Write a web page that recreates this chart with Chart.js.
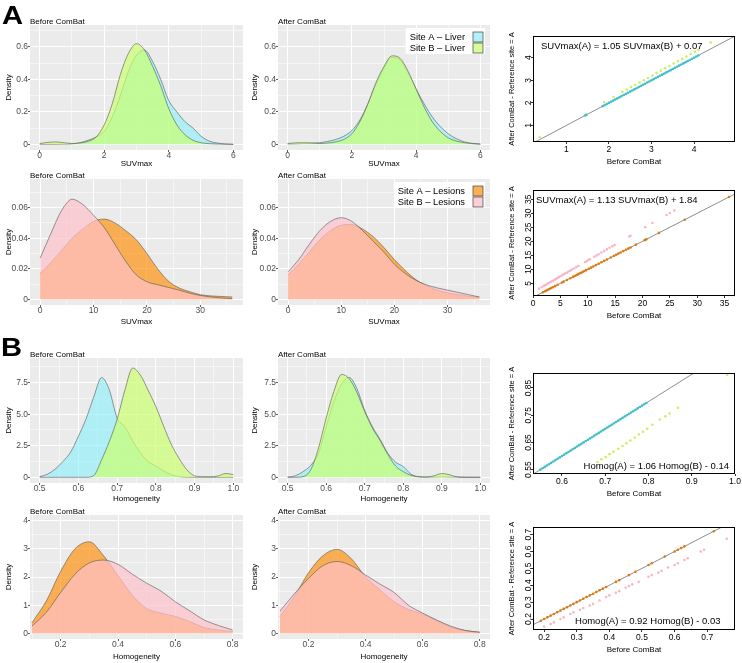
<!DOCTYPE html>
<html>
<head>
<meta charset="utf-8">
<script src="https://cdn.jsdelivr.net/npm/chart.js@4.4.1/dist/chart.umd.min.js"></script>
<style>
  html, body { margin: 0; padding: 0; background: #fff; }
  #figure { position: relative; width: 742px; height: 663px; overflow: hidden; }
  #figure canvas { position: absolute; }
  .tag { position: absolute; font-family: "Liberation Sans", Arial, sans-serif; font-weight: bold; font-size: 26px; line-height: 26px; color: #000; transform: scaleX(1.12); transform-origin: left top; }
</style>
</head>
<body>
<div id="figure">
  <canvas id="c1" width="250" height="170" style="left:0;top:0"></canvas>
  <canvas id="c2" width="250" height="170" style="left:250px;top:0"></canvas>
  <canvas id="c3" width="242" height="170" style="left:500px;top:0"></canvas>
  <canvas id="c4" width="250" height="160" style="left:0;top:170px"></canvas>
  <canvas id="c5" width="250" height="160" style="left:250px;top:170px"></canvas>
  <canvas id="c6" width="242" height="160" style="left:500px;top:170px"></canvas>
  <canvas id="c7" width="250" height="175" style="left:0;top:330px"></canvas>
  <canvas id="c8" width="250" height="175" style="left:250px;top:330px"></canvas>
  <canvas id="c9" width="242" height="175" style="left:500px;top:330px"></canvas>
  <canvas id="c10" width="250" height="163" style="left:0;top:500px"></canvas>
  <canvas id="c11" width="250" height="163" style="left:250px;top:500px"></canvas>
  <canvas id="c12" width="242" height="163" style="left:500px;top:500px"></canvas>
  <div class="tag" style="left:2px;top:2px">A</div>
  <div class="tag" style="left:1px;top:334px">B</div>
</div>
<script>
const FONT = '"Liberation Sans", Arial, Helvetica, sans-serif';
Chart.defaults.font.family = FONT;
Chart.defaults.color = '#4D4D4D';

// Legend names and fills
const liverSites = ['Site A \u2013 Liver', 'Site B \u2013 Liver'];
const lesionSites = ['Site A \u2013 Lesions', 'Site B \u2013 Lesions'];
const liverFills = ['rgba(135,240,250,0.6)', 'rgba(202,255,112,0.7)'];
const lesionFills = ['rgba(255,140,0,0.65)', 'rgba(255,192,203,0.7)'];
const liverDots = ['#3FC0CC', '#C8F060'];
const lesionDots = ['#E07A10', '#F8B5C5'];

// ---- A: SUVmax densities ----
const suvLiverX = [0, 0.25, 0.5, 0.75, 1, 1.25, 1.5, 1.75, 2, 2.25, 2.5, 2.75, 3, 3.25, 3.5, 3.75, 4, 4.25, 4.5, 4.75, 5, 5.25, 5.5, 5.75, 6];
const suvLiverBeforeA = [0, 0, 0, 0.001, 0.003, 0.01, 0.025, 0.045, 0.08, 0.17, 0.3, 0.45, 0.55, 0.58, 0.51, 0.4, 0.27, 0.2, 0.14, 0.1, 0.05, 0.02, 0.008, 0.002, 0];
const suvLiverBeforeB = [0.005, 0.012, 0.015, 0.01, 0.005, 0.008, 0.018, 0.045, 0.12, 0.25, 0.43, 0.56, 0.62, 0.58, 0.48, 0.36, 0.22, 0.12, 0.06, 0.025, 0.01, 0.004, 0.002, 0.001, 0];
const suvLiverAfterA = [0.002, 0.003, 0.005, 0.007, 0.01, 0.018, 0.03, 0.05, 0.085, 0.15, 0.25, 0.37, 0.47, 0.535, 0.52, 0.44, 0.34, 0.25, 0.17, 0.11, 0.065, 0.035, 0.015, 0.006, 0.002];
const suvLiverAfterB = [0.005, 0.009, 0.01, 0.008, 0.005, 0.008, 0.015, 0.03, 0.065, 0.14, 0.25, 0.38, 0.48, 0.545, 0.53, 0.45, 0.34, 0.23, 0.14, 0.08, 0.04, 0.02, 0.01, 0.004, 0.001];

const suvLesionX = [0, 2, 4, 6, 8, 10, 12, 14, 16, 18, 20, 22, 24, 26, 28, 30, 32, 34, 36];
const suvLesionBeforeA = [0.017, 0.024, 0.032, 0.04, 0.046, 0.051, 0.0525, 0.05, 0.045, 0.039, 0.03, 0.02, 0.012, 0.0075, 0.005, 0.003, 0.0022, 0.0018, 0.0015];
const suvLesionBeforeB = [0.027, 0.043, 0.058, 0.0655, 0.062, 0.055, 0.047, 0.036, 0.025, 0.016, 0.0115, 0.0095, 0.0078, 0.006, 0.004, 0.0025, 0.0015, 0.0008, 0.0004];
const suvLesionAfterA = [0.016, 0.023, 0.031, 0.039, 0.045, 0.0485, 0.049, 0.046, 0.041, 0.034, 0.026, 0.019, 0.013, 0.009, 0.006, 0.0042, 0.003, 0.002, 0.0013];
const suvLesionAfterB = [0.018, 0.026, 0.036, 0.045, 0.051, 0.0534, 0.051, 0.045, 0.038, 0.031, 0.023, 0.017, 0.0125, 0.0095, 0.0075, 0.006, 0.0045, 0.003, 0.0015];

// ---- B: Homogeneity densities ----
const homLiverX = [0.5, 0.52, 0.54, 0.56, 0.58, 0.6, 0.62, 0.64, 0.66, 0.68, 0.7, 0.72, 0.74, 0.76, 0.78, 0.8, 0.82, 0.84, 0.86, 0.88, 0.9, 0.92, 0.94, 0.96, 0.98, 1.0];
const homLiverBeforeA = [0.05, 0.25, 0.65, 1.25, 2.0, 3.25, 4.65, 6.4, 7.9, 6.9, 4.7, 4.0, 2.9, 1.95, 1.25, 0.9, 0.5, 0.2, 0.06, 0.01, 0, 0, 0, 0, 0, 0];
const homLiverBeforeB = [0, 0, 0, 0, 0, 0, 0, 0.15, 1.4, 2.85, 4.6, 6.9, 8.65, 8.1, 6.9, 5.6, 4.06, 2.6, 1.5, 0.6, 0.12, 0.05, 0.04, 0.1, 0.3, 0.22];
const homLiverAfterA = [0.02, 0.12, 0.45, 0.95, 1.9, 4.0, 6.0, 7.4, 7.9, 7.0, 5.3, 4.0, 3.0, 1.9, 1.2, 0.85, 0.25, 0.05, 0.02, 0.03, 0.05, 0.03, 0.02, 0.01, 0.005, 0.002];
const homLiverAfterB = [0, 0, 0.05, 0.6, 2.3, 4.7, 6.8, 8.15, 7.8, 6.7, 5.2, 3.9, 2.9, 1.8, 0.9, 0.45, 0.15, 0.04, 0.02, 0.12, 0.3, 0.2, 0.03, 0, 0, 0];

const homLesionX = [0.1, 0.15, 0.2, 0.25, 0.3, 0.35, 0.4, 0.45, 0.5, 0.55, 0.6, 0.65, 0.7, 0.75, 0.8];
const homLesionBeforeA = [0.38, 1.15, 2.2, 3.0, 3.25, 2.75, 2.05, 1.35, 0.88, 0.72, 0.6, 0.42, 0.21, 0.12, 0.06];
const homLesionBeforeB = [0.26, 0.75, 1.45, 2.1, 2.5, 2.6, 2.45, 2.1, 1.78, 1.5, 1.12, 0.8, 0.48, 0.28, 0.12];
const homLesionAfterA = [0.6, 1.3, 2.15, 2.75, 2.98, 2.65, 2.0, 1.55, 1.12, 0.85, 0.68, 0.45, 0.22, 0.1, 0.04];
const homLesionAfterB = [0.79, 1.4, 1.95, 2.4, 2.55, 2.4, 2.07, 1.75, 1.45, 1.0, 0.72, 0.47, 0.25, 0.1, 0.04];

// ---- scatter: before vs after ComBat (site A is the reference, so it stays on y = x) ----
const suvLiverLine = [0, 5];
const suvLiverA = [1.44, 1.47, 1.85, 1.9, 1.95, 2.0, 2.05, 2.1, 2.15, 2.2, 2.25, 2.3, 2.35, 2.4, 2.45, 2.5, 2.55, 2.6, 2.65, 2.7, 2.75, 2.8, 2.85, 2.9, 2.95, 3.0, 3.05, 3.1, 3.15, 3.2, 3.25, 3.3, 3.35, 3.4, 3.45, 3.5, 3.55, 3.6, 3.65, 3.7, 3.75, 3.8, 3.85, 3.9, 3.95, 4.0, 4.05, 4.1];
const suvLiverBBefore = [0.38, 1.89, 2.11, 2.32, 2.42, 2.52, 2.62, 2.72, 2.82, 2.92, 3.02, 3.12, 3.22, 3.32, 3.42, 3.52, 3.62, 3.72, 3.82, 3.92, 4.02, 4.1, 4.39];
const suvLiverBAfter = [0.48, 2.04, 2.26, 2.49, 2.59, 2.7, 2.8, 2.9, 3.0, 3.1, 3.21, 3.32, 3.42, 3.53, 3.63, 3.74, 3.85, 3.95, 4.05, 4.16, 4.27, 4.35, 4.67];

const suvLesionLine = [0, 40];
const suvLesionA = [1.8, 2.2, 2.5, 2.8, 3.0, 3.3, 3.6, 4.0, 4.5, 5.3, 5.6, 6.2, 6.8, 7.3, 7.6, 7.9, 8.2, 8.5, 8.8, 9.1, 9.4, 9.7, 10.2, 10.6, 11.0, 11.5, 12.0, 12.5, 13.0, 13.5, 14.2, 14.8, 15.2, 15.6, 16.0, 16.5, 17.0, 17.4, 17.8, 18.8, 20.4, 20.7, 23.0, 27.7, 35.8];
const suvLesionBBefore = [1.1, 1.6, 2.0, 2.3, 2.6, 2.9, 3.2, 3.5, 3.8, 4.1, 4.4, 4.7, 5.0, 5.3, 5.6, 5.9, 6.2, 6.5, 6.8, 7.1, 7.5, 7.9, 8.3, 9.5, 9.8, 10.1, 10.4, 11.2, 11.6, 12.0, 12.5, 13.0, 13.5, 14.0, 14.5, 14.9, 17.6, 17.8, 20.5, 21.8, 24.4, 25.0, 25.8];
const suvLesionBAfter = [3.1, 3.6, 4.1, 4.4, 4.8, 5.1, 5.5, 5.8, 6.1, 6.5, 6.8, 7.2, 7.5, 7.8, 8.2, 8.5, 8.8, 9.2, 9.5, 9.9, 10.3, 10.8, 11.2, 12.6, 12.9, 13.3, 13.6, 14.5, 14.9, 15.4, 16.0, 16.5, 17.1, 17.7, 18.2, 18.7, 21.7, 22.0, 25.0, 26.5, 29.4, 30.1, 31.0];

const homLiverLine = [0.5, 1];
const homLiverA = [0.55, 0.555, 0.56, 0.565, 0.57, 0.575, 0.58, 0.585, 0.59, 0.595, 0.6, 0.605, 0.61, 0.615, 0.62, 0.625, 0.63, 0.635, 0.64, 0.645, 0.65, 0.655, 0.66, 0.665, 0.67, 0.675, 0.68, 0.685, 0.69, 0.695, 0.7, 0.705, 0.71, 0.715, 0.72, 0.725, 0.73, 0.735, 0.74, 0.745, 0.75, 0.755, 0.76, 0.765, 0.77, 0.775, 0.78, 0.785, 0.79, 0.795];
const homLiverBBefore = [0.682, 0.691, 0.701, 0.71, 0.719, 0.73, 0.74, 0.749, 0.758, 0.768, 0.778, 0.787, 0.797, 0.809, 0.826, 0.839, 0.849, 0.868, 0.982];
const homLiverBAfter = [0.578, 0.588, 0.596, 0.607, 0.616, 0.627, 0.637, 0.647, 0.657, 0.668, 0.679, 0.689, 0.7, 0.715, 0.734, 0.746, 0.756, 0.777, 0.899];

const homLesionLine = [0.1, 0.8];
const homLesionA = [0.19, 0.2, 0.21, 0.22, 0.23, 0.24, 0.25, 0.26, 0.27, 0.28, 0.29, 0.3, 0.31, 0.32, 0.33, 0.34, 0.35, 0.36, 0.37, 0.38, 0.39, 0.42, 0.43, 0.46, 0.48, 0.52, 0.53, 0.57, 0.6, 0.61, 0.62, 0.63, 0.72];
const homLesionBBefore = [0.2, 0.22, 0.23, 0.25, 0.26, 0.28, 0.29, 0.31, 0.32, 0.34, 0.35, 0.37, 0.39, 0.4, 0.42, 0.43, 0.45, 0.46, 0.47, 0.49, 0.52, 0.53, 0.55, 0.56, 0.58, 0.6, 0.61, 0.63, 0.64, 0.68, 0.69, 0.76];
const homLesionBAfter = [0.155, 0.17, 0.18, 0.2, 0.21, 0.23, 0.24, 0.255, 0.265, 0.28, 0.29, 0.31, 0.33, 0.34, 0.355, 0.365, 0.385, 0.395, 0.405, 0.42, 0.45, 0.46, 0.475, 0.485, 0.505, 0.52, 0.53, 0.55, 0.56, 0.6, 0.61, 0.675];

// ---- plugins ----
const panelBackground = {
  id: 'panelBackground',
  beforeDraw(chart, args, opts) {
    if (!opts.color) return;
    const { ctx, chartArea: a } = chart;
    ctx.save();
    ctx.fillStyle = opts.color;
    ctx.fillRect(a.left, a.top, a.right - a.left, a.bottom - a.top);
    ctx.restore();
  },
};

const panelTitle = {
  id: 'panelTitle',
  afterDraw(chart, args, opts) {
    if (!opts.text) return;
    const { ctx, chartArea: a } = chart;
    ctx.save();
    ctx.font = '8px ' + FONT;
    ctx.fillStyle = '#000';
    ctx.textBaseline = 'alphabetic';
    ctx.fillText(opts.text, a.left, a.top - 1.5);
    ctx.restore();
  },
};

const insetLegend = {
  id: 'insetLegend',
  afterDraw(chart, args, opts) {
    if (!opts.labels) return;
    const { ctx, chartArea: a } = chart;
    ctx.save();
    ctx.font = '9.3px ' + FONT;
    const textW = Math.max(...opts.labels.map(t => ctx.measureText(t).width));
    const key = 10, row = 11, gap = 8;
    const w = 4 + textW + gap + key + 2;
    const h = 4 + row * opts.labels.length;
    const x0 = a.right - 5 - w, y0 = a.top + 3;
    ctx.fillStyle = '#fff';
    ctx.fillRect(x0, y0, w, h);
    opts.labels.forEach((t, i) => {
      const kx = x0 + w - 2 - key, ky = y0 + 4 + i * row;
      ctx.fillStyle = '#F2F2F2';
      ctx.fillRect(kx, ky, key, key);
      ctx.fillStyle = opts.colors[i];
      ctx.fillRect(kx, ky, key, key);
      ctx.strokeStyle = '#444';
      ctx.lineWidth = 0.7;
      ctx.strokeRect(kx, ky, key, key);
      ctx.fillStyle = '#000';
      ctx.textAlign = 'right';
      ctx.textBaseline = 'middle';
      ctx.fillText(t, kx - gap, ky + key / 2);
    });
    ctx.restore();
  },
};

const boxFrame = {
  id: 'boxFrame',
  afterDraw(chart, args, opts) {
    if (!opts.color) return;
    const { ctx, chartArea: a } = chart;
    ctx.save();
    ctx.strokeStyle = opts.color;
    ctx.lineWidth = 1;
    ctx.strokeRect(Math.round(a.left) + 0.5, Math.round(a.top) + 0.5, Math.round(a.right - a.left) - 1, Math.round(a.bottom - a.top) - 1);
    ctx.restore();
  },
};

// R-style y tick labels, parallel to the axis
const rotatedYTicks = {
  id: 'rotatedYTicks',
  afterDraw(chart, args, opts) {
    if (!opts.values) return;
    const { ctx, chartArea: a, scales: { y } } = chart;
    ctx.save();
    ctx.font = '8.5px ' + FONT;
    ctx.fillStyle = '#000';
    ctx.textAlign = 'center';
    ctx.textBaseline = 'alphabetic';
    opts.values.forEach((v, i) => {
      ctx.save();
      ctx.translate(a.left - 2.5, y.getPixelForValue(v));
      ctx.rotate(-Math.PI / 2);
      ctx.fillText(opts.labels[i], 0, 0);
      ctx.restore();
    });
    ctx.restore();
  },
};

const equationLabel = {
  id: 'equationLabel',
  afterDraw(chart, args, opts) {
    if (!opts.text) return;
    const { ctx, chartArea: a } = chart;
    ctx.save();
    ctx.font = '9.5px ' + FONT;
    ctx.fillStyle = '#000';
    ctx.textBaseline = 'middle';
    if (opts.corner === 'topleft') {
      ctx.textAlign = 'left';
      ctx.fillText(opts.text, a.left + opts.dx, a.top + opts.dy);
    } else {
      ctx.textAlign = 'right';
      ctx.fillText(opts.text, a.right - opts.dx, a.bottom - opts.dy);
    }
    ctx.restore();
  },
};

Chart.register(panelBackground, panelTitle, insetLegend, boxFrame, rotatedYTicks, equationLabel);

// ---- helpers ----
function pairs(xs, ys) {
  return xs.map((x, i) => ({ x, y: ys[i] }));
}

function near(list, v) {
  return list.findIndex(m => Math.abs(m - v) < 1e-9);
}

// ggplot-like minor breaks halfway between the major ones
function withMinor(majors, min, max) {
  const step = majors[1] - majors[0];
  const all = majors.concat([majors[0] - step / 2], majors.map(m => m + step / 2));
  return all.filter(v => v >= min && v <= max).sort((p, q) => p - q);
}

function ggAxis(c) {
  const all = withMinor(c.ticks, c.min, c.max);
  const major = ctx => ctx.tick && near(c.ticks, ctx.tick.value) >= 0;
  return {
    type: 'linear',
    min: c.min,
    max: c.max,
    afterBuildTicks: s => { s.ticks = all.map(v => ({ value: v })); },
    afterFit: s => { if (c.horizontal) s.height = c.size; else s.width = c.size; },
    border: { display: false },
    grid: {
      color: '#FFFFFF',
      lineWidth: ctx => major(ctx) ? 1 : 0.5,
      tickLength: 2,
      tickWidth: 0.8,
      tickColor: ctx => major(ctx) ? '#333333' : 'rgba(0,0,0,0)',
    },
    ticks: {
      autoSkip: false,
      maxRotation: 0,
      minRotation: 0,
      padding: c.horizontal ? -1 : 0,
      color: '#4D4D4D',
      font: { size: 8.5, lineHeight: 1 },
      callback: v => { const i = near(c.ticks, v); return i < 0 ? '' : c.labels[i]; },
    },
    title: {
      display: true,
      text: c.title,
      color: '#000',
      font: { size: 8 },
      padding: c.horizontal ? { top: 0, bottom: c.titlePad } : { top: c.titlePad, bottom: 0 },
    },
  };
}

function rAxis(c) {
  return {
    type: 'linear',
    min: c.min,
    max: c.max,
    afterBuildTicks: s => { s.ticks = c.ticks.map(v => ({ value: v })); },
    afterFit: s => { if (c.horizontal) s.height = c.size; else s.width = c.size; },
    border: { display: false },
    grid: { drawOnChartArea: false, drawTicks: true, tickLength: 2, tickWidth: 0.8, tickColor: '#000' },
    ticks: {
      display: !!c.horizontal,
      autoSkip: false,
      maxRotation: 0,
      minRotation: 0,
      padding: 1,
      color: '#000',
      font: { size: 8.5, lineHeight: 1 },
      callback: v => { const i = near(c.ticks, v); return i < 0 ? '' : c.labels[i]; },
    },
    title: {
      display: true,
      text: c.title,
      color: '#000',
      font: { size: c.horizontal ? 8 : 7.5 },
      padding: c.horizontal ? { top: 0, bottom: c.titlePad } : { top: c.titlePad, bottom: 0 },
    },
  };
}

function curve(label, xs, ys, fill) {
  return {
    label,
    data: pairs(xs, ys),
    backgroundColor: fill,
    borderColor: '#555555',
    borderWidth: 0.6,
    fill: 'origin',
    pointRadius: 0,
    cubicInterpolationMode: 'monotone',
  };
}

function densityPanel(id, p) {
  new Chart(document.getElementById(id), {
    type: 'line',
    data: {
      // site B first so it is drawn on top of site A
      datasets: [
        curve(p.sites[1], p.x, p.b, p.fills[1]),
        curve(p.sites[0], p.x, p.a, p.fills[0]),
      ],
    },
    options: {
      responsive: false,
      animation: false,
      layout: { padding: { top: p.top, right: p.right, left: 0, bottom: 0 } },
      scales: {
        x: ggAxis(Object.assign({ horizontal: true }, p.xAxis)),
        y: ggAxis(p.yAxis),
      },
      plugins: {
        legend: { display: false },
        tooltip: { enabled: false },
        panelBackground: { color: '#EBEBEB' },
        panelTitle: { text: p.title },
        insetLegend: p.legend ? { labels: p.sites, colors: p.fills } : {},
      },
    },
  });
}

function scatterPanel(id, p) {
  new Chart(document.getElementById(id), {
    type: 'scatter',
    data: {
      datasets: [
        { label: 'Site B', data: pairs(p.bBefore, p.bAfter), backgroundColor: p.colors[1], borderColor: p.colors[1], borderWidth: 0, pointRadius: 1.3 },
        { label: 'Site A', data: pairs(p.a, p.a), backgroundColor: p.colors[0], borderColor: p.colors[0], borderWidth: 0, pointRadius: 1.3 },
        { label: 'y = x', data: pairs(p.line, p.line), showLine: true, borderColor: '#8E8E8E', borderWidth: 1, pointRadius: 0 },
      ],
    },
    options: {
      responsive: false,
      animation: false,
      layout: { padding: { top: p.top, right: 7, left: 0, bottom: 0 } },
      scales: {
        x: rAxis(Object.assign({ horizontal: true, size: p.xh, title: 'Before ComBat', titlePad: p.xTitlePad }, p.xAxis)),
        y: rAxis(Object.assign({ size: 33, title: 'After ComBat - Reference site = A', titlePad: 7.2 }, p.yAxis)),
      },
      plugins: {
        legend: { display: false },
        tooltip: { enabled: false },
        boxFrame: { color: '#000' },
        rotatedYTicks: { values: p.yAxis.ticks, labels: p.yAxis.labels },
        equationLabel: p.equation,
      },
    },
  });
}

// ---- tick breaks ----
const suvLiverTicks = [0, 2, 4, 6];
const suvLiverDensTicks = [0, 0.2, 0.4, 0.6];
const suvLesionTicks = [0, 10, 20, 30];
const suvLesionDensTicks = [0, 0.02, 0.04, 0.06];
const homLiverTicks = [0.5, 0.6, 0.7, 0.8, 0.9, 1.0];
const homLiverDensTicks = [0, 2.5, 5, 7.5];
const homLesionTicks = [0.2, 0.4, 0.6, 0.8];
const homLesionDensTicks = [0, 1, 2, 3, 4];

const rows = [
  { top: 25, xh: 20, xPad: 1.5, x: suvLiverX, sites: liverSites, fills: liverFills,
    before: [suvLiverBeforeA, suvLiverBeforeB], after: [suvLiverAfterA, suvLiverAfterB],
    xAxis: { min: -0.3, max: 6.3, ticks: suvLiverTicks, labels: ['0', '2', '4', '6'], title: 'SUVmax' },
    yAxis: { min: -0.035, max: 0.735, ticks: suvLiverDensTicks, labels: ['0', '0.2', '0.4', '0.6'], title: 'Density' } },
  { top: 9, xh: 25, xPad: 3.5, x: suvLesionX, sites: lesionSites, fills: lesionFills,
    before: [suvLesionBeforeA, suvLesionBeforeB], after: [suvLesionAfterA, suvLesionAfterB],
    xAxis: { min: -1.9, max: 38, ticks: suvLesionTicks, labels: ['0', '10', '20', '30'], title: 'SUVmax' },
    yAxis: { min: -0.00375, max: 0.07875, ticks: suvLesionDensTicks, labels: ['0', '0.02', '0.04', '0.06'], title: 'Density' } },
  { top: 28, xh: 22, xPad: 1.2, x: homLiverX, sites: liverSites, fills: liverFills,
    before: [homLiverBeforeA, homLiverBeforeB], after: [homLiverAfterA, homLiverAfterB],
    xAxis: { min: 0.475, max: 1.025, ticks: homLiverTicks, labels: ['0.5', '0.6', '0.7', '0.8', '0.9', '1.0'], title: 'Homogeneity' },
    yAxis: { min: -0.45, max: 9.45, ticks: homLiverDensTicks, labels: ['0', '2.5', '5.0', '7.5'], title: 'Density' } },
  { top: 15, xh: 24, xPad: 1.5, x: homLesionX, sites: lesionSites, fills: lesionFills,
    before: [homLesionBeforeA, homLesionBeforeB], after: [homLesionAfterA, homLesionAfterB],
    xAxis: { min: 0.093, max: 0.836, ticks: homLesionTicks, labels: ['0.2', '0.4', '0.6', '0.8'], title: 'Homogeneity' },
    yAxis: { min: -0.2, max: 4.2, ticks: homLesionDensTicks, labels: ['0', '1', '2', '3', '4'], title: 'Density' } },
];

rows.forEach((r, i) => {
  const xAxis = Object.assign({ size: r.xh, titlePad: r.xPad }, r.xAxis);
  densityPanel('c' + (i * 3 + 1), {
    x: r.x, a: r.before[0], b: r.before[1], sites: r.sites, fills: r.fills,
    top: r.top, right: 7, title: 'Before ComBat',
    xAxis, yAxis: Object.assign({ size: 30, titlePad: 3.5 }, r.yAxis),
  });
  densityPanel('c' + (i * 3 + 2), {
    x: r.x, a: r.after[0], b: r.after[1], sites: r.sites, fills: r.fills,
    top: r.top, right: 10, title: 'After ComBat', legend: i < 2,
    xAxis, yAxis: Object.assign({ size: 28, titlePad: 0 }, r.yAxis),
  });
});

scatterPanel('c3', {
  a: suvLiverA, bBefore: suvLiverBBefore, bAfter: suvLiverBAfter, line: suvLiverLine, colors: liverDots,
  top: 36, xh: 28, xTitlePad: 3.5,
  xAxis: { min: 0.22, max: 4.96, ticks: [1, 2, 3, 4], labels: ['1', '2', '3', '4'] },
  yAxis: { min: 0.27, max: 4.96, ticks: [1, 2, 3, 4], labels: ['1', '2', '3', '4'] },
  equation: { text: 'SUVmax(A) = 1.05 SUVmax(B) + 0.07', corner: 'topleft', dx: 8, dy: 10.7 },
});
scatterPanel('c6', {
  a: suvLesionA, bBefore: suvLesionBBefore, bAfter: suvLesionBAfter, line: suvLesionLine, colors: lesionDots,
  top: 20, xh: 34, xTitlePad: 9.5,
  xAxis: { min: 0, max: 36.9, ticks: [0, 5, 10, 15, 20, 25, 30, 35], labels: ['0', '5', '10', '15', '20', '25', '30', '35'] },
  yAxis: { min: 0.48, max: 38.3, ticks: [5, 10, 15, 20, 25, 30, 35], labels: ['5', '10', '15', '20', '25', '30', '35'] },
  equation: { text: 'SUVmax(A) = 1.13 SUVmax(B) + 1.84', corner: 'topleft', dx: 3, dy: 10.7 },
});
scatterPanel('c9', {
  a: homLiverA, bBefore: homLiverBBefore, bAfter: homLiverBAfter, line: homLiverLine, colors: liverDots,
  top: 43, xh: 31, xTitlePad: 6.2,
  xAxis: { min: 0.533, max: 1.0, ticks: [0.6, 0.7, 0.8, 0.9, 1.0], labels: ['0.6', '0.7', '0.8', '0.9', '1.0'] },
  yAxis: { min: 0.534, max: 0.905, ticks: [0.55, 0.65, 0.75, 0.85], labels: ['0.55', '0.65', '0.75', '0.85'] },
  equation: { text: 'Homog(A) = 1.06 Homog(B) - 0.14', corner: 'bottomright', dx: 6, dy: 7.3 },
});
scatterPanel('c12', {
  a: homLesionA, bBefore: homLesionBBefore, bAfter: homLesionBAfter, line: homLesionLine, colors: lesionDots,
  top: 27, xh: 33, xTitlePad: 8.2,
  xAxis: { min: 0.166, max: 0.785, ticks: [0.2, 0.3, 0.4, 0.5, 0.6, 0.7], labels: ['0.2', '0.3', '0.4', '0.5', '0.6', '0.7'] },
  yAxis: { min: 0.135, max: 0.745, ticks: [0.2, 0.3, 0.4, 0.5, 0.6, 0.7], labels: ['0.2', '0.3', '0.4', '0.5', '0.6', '0.7'] },
  equation: { text: 'Homog(A) = 0.92 Homog(B) - 0.03', corner: 'bottomright', dx: 14.5, dy: 9 },
});
</script>
</body>
</html>
